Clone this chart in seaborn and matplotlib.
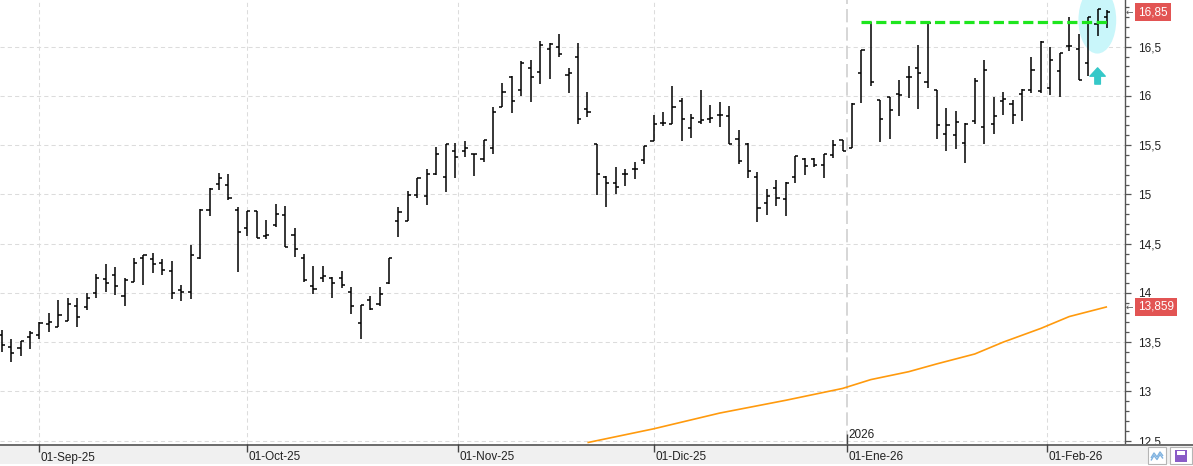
import numpy as np
import pandas as pd
import matplotlib
matplotlib.use("Agg")
import matplotlib.pyplot as plt
import matplotlib.transforms as mtransforms
from matplotlib.patches import Ellipse, Rectangle
from matplotlib.ticker import MultipleLocator, FuncFormatter
import seaborn as sns

# ---------------- data ----------------
start_date = "2025-08-26"
end_date = "2026-02-10"
market_holidays = ["2025-12-25", "2025-12-26", "2026-01-01"]

opens = [13.575, 13.45, 13.44, 13.55, 13.575, 13.68, 13.65, 13.71, 13.87, 13.86,
         14.00, 14.14, 14.18, 13.97, 14.11, 14.35, 14.34, 14.30, 14.22, 14.03,
         14.01, 14.35, 14.84, 15.105, 15.10, 14.84, 14.66, 14.83, 14.58, 14.69,
         14.79, 14.59, 14.35, 14.07, 14.15, 14.15, 14.15, 14.01, 13.69, 13.93,
         13.89, 14.10, 14.73, 14.73, 14.99, 14.98, 15.21, 15.18, 15.44, 15.44,
         15.41, 15.36, 15.47, 15.89, 16.19, 16.06, 16.28, 16.24, 16.48, 16.50,
         16.21, 16.40, 15.87, 15.51, 15.18, 15.12, 15.21, 15.26, 15.35, 15.54,
         15.73, 15.72, 15.95, 15.67, 15.74, 15.77, 15.81, 15.80, 15.56, 15.51,
         15.18, 14.91, 15.07, 14.95, 15.18, 15.36, 15.36, 15.30, 15.40, 15.55,
         15.47, 16.23, 16.74, 15.96, 15.99, 16.02, 16.19, 16.28, 16.14, 16.06,
         15.61, 15.60, 15.52, 15.75, 15.68, 15.72, 15.95, 15.92, 16.02, 16.06,
         16.05, 16.08, 16.25, 16.51, 16.48, 16.33, 16.73, 16.80]
highs = [13.62, 13.53, 13.51, 13.61, 13.70, 13.80, 13.93, 13.95, 13.95, 14.00,
         14.19, 14.29, 14.26, 14.15, 14.35, 14.39, 14.41, 14.34, 14.32, 14.08,
         14.49, 14.85, 15.07, 15.22, 15.21, 14.87, 14.83, 14.83, 14.74, 14.90,
         14.88, 14.66, 14.40, 14.27, 14.27, 14.16, 14.22, 14.06, 13.88, 13.97,
         14.06, 14.35, 14.87, 15.03, 15.17, 15.26, 15.48, 15.51, 15.52, 15.54,
         15.41, 15.55, 15.89, 16.13, 16.20, 16.35, 16.36, 16.56, 16.54, 16.63,
         16.28, 16.54, 16.04, 15.51, 15.19, 15.28, 15.26, 15.33, 15.49, 15.81,
         15.84, 16.10, 15.98, 15.82, 16.06, 15.91, 15.94, 15.90, 15.65, 15.52,
         15.23, 15.06, 15.15, 15.13, 15.39, 15.37, 15.37, 15.41, 15.55, 15.55,
         15.93, 16.47, 16.75, 15.96, 15.99, 16.16, 16.30, 16.52, 16.75, 16.06,
         15.88, 15.85, 15.73, 16.18, 16.36, 15.99, 16.04, 15.96, 16.07, 16.40,
         16.56, 16.50, 16.44, 16.80, 16.63, 16.80, 16.88, 16.87]
lows = [13.40, 13.30, 13.36, 13.43, 13.53, 13.60, 13.65, 13.71, 13.65, 13.83,
        13.95, 14.01, 13.98, 13.87, 14.11, 14.08, 14.20, 14.18, 13.94, 13.92,
        13.94, 14.34, 14.78, 15.04, 14.94, 14.21, 14.58, 14.56, 14.55, 14.67,
        14.47, 14.36, 14.11, 13.99, 14.11, 13.95, 14.05, 13.79, 13.53, 13.83,
        13.87, 14.09, 14.57, 14.73, 14.96, 14.89, 15.20, 15.02, 15.17, 15.38,
        15.19, 15.33, 15.41, 15.89, 15.83, 16.00, 15.94, 16.12, 16.17, 16.40,
        16.03, 15.72, 15.79, 14.99, 14.87, 15.00, 15.09, 15.16, 15.31, 15.54,
        15.69, 15.72, 15.54, 15.57, 15.72, 15.73, 15.68, 15.51, 15.31, 15.17,
        14.72, 14.79, 14.88, 14.78, 15.12, 15.20, 15.28, 15.17, 15.37, 15.44,
        15.47, 15.93, 16.10, 15.53, 15.56, 15.80, 15.98, 15.87, 16.08, 15.56,
        15.44, 15.46, 15.32, 15.72, 15.51, 15.61, 15.81, 15.72, 15.75, 16.03,
        16.03, 16.01, 15.99, 16.46, 16.16, 16.20, 16.61, 16.69]
closes = [13.47, 13.39, 13.51, 13.59, 13.69, 13.70, 13.78, 13.89, 13.76, 13.95,
          14.15, 14.10, 14.07, 14.13, 14.30, 14.38, 14.29, 14.23, 14.00, 14.01,
          14.39, 14.84, 15.06, 15.17, 14.96, 14.62, 14.83, 14.56, 14.59, 14.80,
          14.47, 14.45, 14.13, 14.04, 14.17, 14.10, 14.08, 13.87, 13.88, 13.84,
          13.99, 14.35, 14.82, 14.99, 15.17, 15.21, 15.41, 15.51, 15.38, 15.47,
          15.41, 15.55, 15.84, 16.04, 15.95, 16.33, 16.19, 16.52, 16.53, 16.43,
          16.23, 15.77, 15.84, 15.21, 15.12, 15.08, 15.21, 15.26, 15.49, 15.71,
          15.73, 15.89, 15.77, 15.78, 15.76, 15.78, 15.81, 15.51, 15.34, 15.24,
          14.86, 14.98, 14.96, 15.12, 15.39, 15.29, 15.30, 15.41, 15.50, 15.44,
          15.92, 16.47, 16.14, 15.77, 15.86, 16.01, 16.19, 16.23, 16.74, 15.70,
          15.70, 15.74, 15.72, 16.15, 16.26, 15.80, 15.97, 15.81, 16.06, 16.26,
          16.55, 16.36, 16.44, 16.51, 16.16, 16.80, 16.88, 16.85]

# slow moving average (orange), read at selected sessions
ma_dates = ["2025-11-20", "2025-12-01", "2025-12-10", "2025-12-19", "2025-12-31",
            "2026-01-06", "2026-01-12", "2026-01-15", "2026-01-21", "2026-01-26",
            "2026-01-30", "2026-02-04", "2026-02-10"]
ma_values = [12.48, 12.62, 12.78, 12.91, 13.03, 13.12, 13.20, 13.28, 13.38, 13.50,
             13.64, 13.76, 13.859]

# resistance (green dashed)
resistance_level = 16.75
resistance_from = "2026-01-05"
resistance_to = "2026-02-10"

x_tick_dates = ["2025-09-01", "2025-10-01", "2025-11-01", "2025-12-01", "2026-01-01", "2026-02-01"]
x_tick_labels = ["01-Sep-25", "01-Oct-25", "01-Nov-25", "01-Dic-25", "01-Ene-26", "01-Feb-26"]
year_marker_date = "2026-01-01"
year_marker_label = "2026"

# ---------------- helpers ----------------
dates = pd.bdate_range(start_date, end_date)
dates = dates[~dates.isin(pd.to_datetime(market_holidays))]
n = len(dates)
pos = np.arange(n)
date_idx = {d: i for i, d in enumerate(dates)}


def date_pos(s):
    d = pd.Timestamp(s)
    if d in date_idx:
        return float(date_idx[d])
    prev_i = np.searchsorted(dates.values, d.to_datetime64()) - 1
    p, q = dates[prev_i], dates[prev_i + 1]
    return prev_i + (d - p).days / (q - p).days


def fmt_num(v, _=None):
    return f"{v:g}".replace(".", ",")


# ---------------- style ----------------
sns.set_theme(style="white")
plt.rcParams["font.family"] = ["Liberation Sans", "DejaVu Sans"]
plt.rcParams["lines.solid_capstyle"] = "butt"

W, H = 1193, 466
PLOT_R, PLOT_B = 1125, 444
fig = plt.figure(figsize=(W / 100, H / 100), dpi=100)
fig.patch.set_facecolor("white")
ax = fig.add_axes([0, (H - PLOT_B) / H, PLOT_R / W, PLOT_B / H])
ax.set_facecolor("white")

xmin, xmax = -0.18, 118.9
ymin, ymax = 12.466, 16.974
ax.set_xlim(xmin, xmax)
ax.set_ylim(ymin, ymax)

# grid
for yv in np.arange(12.5, 17.0, 0.5):
    ax.axhline(yv, color="#dcdcdc", lw=0.75, ls=(0, (4, 3)), zorder=0)
year_pos = date_pos(year_marker_date)
tick_pos = [date_pos(d) for d in x_tick_dates]
for p in tick_pos:
    if abs(p - year_pos) < 1e-9:
        ax.axvline(p, color="#cfcfcf", lw=1.2, ls=(0, (8, 3)), zorder=0)
    else:
        ax.axvline(p, color="#dcdcdc", lw=0.75, ls=(0, (4, 3)), zorder=0)

# highlight ellipse behind the last bars
ax.add_patch(Ellipse((date_pos("2026-02-09") - 0.03, 16.77), 4.0, 0.68,
                     facecolor="#c9f6fa", edgecolor="none", zorder=0.5))

# ---------------- OHLC bars via seaborn ----------------
hl = pd.DataFrame({
    "x": np.repeat(pos, 2).astype(float),
    "y": np.column_stack([lows, highs]).ravel(),
    "u": np.repeat(pos, 2),
})
sns.lineplot(data=hl, x="x", y="y", units="u", estimator=None, sort=False,
             color="black", lw=1.1, ax=ax, legend=False)

w = 0.33
xs, ys, us = [], [], []
for i in range(n):
    xs += [i - w, i, i, i + w]
    ys += [opens[i], opens[i], closes[i], closes[i]]
    us += [2 * i, 2 * i, 2 * i + 1, 2 * i + 1]
oc = pd.DataFrame({"x": xs, "y": ys, "u": us})
sns.lineplot(data=oc, x="x", y="y", units="u", estimator=None, sort=False,
             color="black", lw=1.1, ax=ax, legend=False)

# moving average
ma_df = pd.DataFrame({"x": [date_pos(d) for d in ma_dates], "y": ma_values})
sns.lineplot(data=ma_df, x="x", y="y", estimator=None, sort=False,
             color="#ff9a0d", lw=1.2, ax=ax, legend=False)

# resistance line
ax.plot([date_pos(resistance_from), date_pos(resistance_to)],
        [resistance_level, resistance_level],
        color="#1ee61e", lw=2.3, ls=(0, (3.2, 1.4)), zorder=3)

# turquoise up-arrow
ax.annotate("", xy=(date_pos("2026-02-09"), 16.285), xytext=(date_pos("2026-02-09"), 16.12),
            arrowprops=dict(arrowstyle="simple,head_length=0.6,head_width=1.1,tail_width=0.4",
                            color="#35c8c8", shrinkA=0, shrinkB=0, mutation_scale=10),
            zorder=4)

# year marker
blend_xa = mtransforms.blended_transform_factory(ax.transData, ax.transAxes)
ax.plot([year_pos, year_pos], [0, 10 / PLOT_B], transform=blend_xa, color="#444444", lw=1.0,
        clip_on=False)
ax.text(year_pos + 0.12, 8.5 / PLOT_B, year_marker_label, transform=blend_xa, ha="left",
        va="center", fontsize=8.5, color="#222222")

# ---------------- right axis ----------------
for s in ["top", "left", "bottom"]:
    ax.spines[s].set_visible(False)
ax.spines["right"].set_color("#555555")
ax.spines["right"].set_linewidth(1.0)
ax.yaxis.tick_right()
ax.yaxis.set_major_locator(MultipleLocator(0.5))
ax.yaxis.set_minor_locator(MultipleLocator(0.1))
ax.yaxis.set_major_formatter(FuncFormatter(fmt_num))
ax.tick_params(axis="y", which="major", direction="out", length=4.5, width=0.9,
               color="#555555", labelsize=8.5, labelcolor="#222222", pad=5)
ax.tick_params(axis="y", which="minor", direction="out", length=2.6, width=0.9,
               color="#555555")
ax.set_xticks([])
ax.set_xlabel("")
ax.set_ylabel("")

blend_ay = mtransforms.blended_transform_factory(ax.transAxes, ax.transData)
for val, txt in [(closes[-1], f"{closes[-1]:.2f}".replace(".", ",")),
                 (ma_values[-1], f"{ma_values[-1]:.3f}".replace(".", ","))]:
    ax.text(1138 / PLOT_R, val, txt, transform=blend_ay, ha="left", va="center",
            fontsize=8.5, color="white", zorder=6,
            bbox=dict(boxstyle="square,pad=0.25", fc="#e25453", ec="none"))
    ax.text(1126 / PLOT_R, val, "←", transform=blend_ay, ha="left", va="center",
            fontsize=6.5, color="#555555", family="DejaVu Sans")

# ---------------- bottom date band ----------------
band_h = H - PLOT_B
axb = fig.add_axes([0, 0, 1, band_h / H], zorder=2)
axb.set_facecolor("#f0f0f0")
axb.set_xlim(xmin, xmin + (xmax - xmin) * W / PLOT_R)
axb.set_ylim(0, band_h)
axb.axis("off")
axb.add_patch(Rectangle((0, 0), 1, 1, transform=axb.transAxes, facecolor="#f0f0f0",
                        edgecolor="none", zorder=0))
axb.add_patch(Rectangle((0, 0), 1, 2, transform=mtransforms.blended_transform_factory(
    axb.transAxes, axb.transData), facecolor="white", edgecolor="none", zorder=0.5))
axb.axhline(band_h - 0.5, color="#555555", lw=1.2, zorder=3)
px_per_bar = PLOT_R / (xmax - xmin)
for p, lab in zip(tick_pos, x_tick_labels):
    axb.plot([p, p], [band_h - 8, band_h], color="#444444", lw=1.0, zorder=3)
    axb.text(p + 1.5 / px_per_bar, 8.5, lab, ha="left", va="center", fontsize=8.5,
             color="#222222", zorder=3)

# small UI buttons bottom-right
def px_rect(x0, y0, x1, y1, **kw):
    return Rectangle((x0 / W, 1 - y1 / H), (x1 - x0) / W, (y1 - y0) / H,
                     transform=fig.transFigure, **kw)

fig.add_artist(px_rect(1148, 447, 1166, 464, facecolor="white", edgecolor="#b5b5b5", lw=0.8, zorder=5))
fig.add_artist(px_rect(1170, 447, 1192, 464, facecolor="white", edgecolor="#b5b5b5", lw=0.8, zorder=5))
fig.add_artist(px_rect(1175, 450, 1187, 462, facecolor="#8a5cc7", edgecolor="none", zorder=6))
fig.add_artist(px_rect(1177, 451, 1185, 455, facecolor="white", edgecolor="none", zorder=7))
zx = np.array([1151, 1154, 1157, 1160, 1163]) / W
zy = 1 - np.array([458, 453, 457, 452, 456]) / H
fig.add_artist(plt.Line2D(zx, zy, transform=fig.transFigure, color="#7fb2e0", lw=1.0, zorder=6))
fig.add_artist(plt.Line2D(zx, zy - 2.5 / H, transform=fig.transFigure, color="#7fb2e0", lw=1.0, zorder=6))

fig.savefig("out.png", dpi=100, facecolor=fig.get_facecolor())
